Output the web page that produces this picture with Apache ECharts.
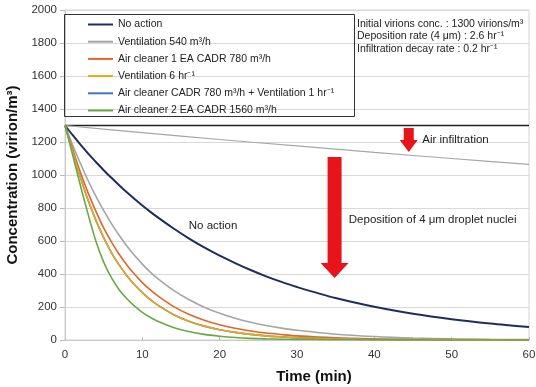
<!DOCTYPE html>
<html><head><meta charset="utf-8">
<script src="https://cdn.jsdelivr.net/npm/echarts@6/dist/echarts.min.js"></script>
<style>html,body{margin:0;padding:0;background:#fff}#c{width:536px;height:387px}</style>
</head><body><div id="c"></div>
<script>
// ---- data ----
const times = [0,1,2,3,4,5,6,7,8,9,10,11,12,14,16,18,20,22,24,26,28,30,35,40,45,50,55,60];
const noAction   = [1300,1241,1184,1130,1079,1029,983,938,895,854,815,778,743,677,616,561,511,466,424,386,352,321,254,201,159,126,100,79];
const vent540    = [1300,1180,1070,965,870,785,705,635,570,512,460,413,372,302,245,199,162,132,108,88,72,59,35,21,12,7,4,2.5];
const ac1        = [1300,1155,1015,890,780,680,595,520,455,398,348,305,267,204,156,120,92,71,55,42,33,25,13,7,3.5,2,1,0.5];
const vent6      = [1300,1140,985,845,725,620,530,455,390,335,287,246,211,155,114,84,62,46,34,25,19,14,7,3,1.5,1,0.5,0];
const acVent1    = [1300,1140,985,845,725,620,530,455,390,335,287,246,211,155,114,84,62,46,34,25,19,14,7,3,1.5,1,0.5,0];
const ac2        = [1300,1120,935,760,598,472,378,305,250,205,168,138,113,76,51,34,23,15,10,7,5,4,2,1,0.5,0,0,0];
const infilTimes = [0,10,20,30,40,50,60];
const infil      = [1300,1257,1215,1176,1137,1100,1064];
const initTimes  = [0,60];
const initConc   = [1300,1300];
const xTicks = {min:0,max:60,interval:10};
const yTicks = {min:0,max:2000,interval:200};
const names = ['No action','Ventilation 540 m³/h','Air cleaner 1 EA CADR 780 m³/h','Ventilation 6 hr⁻¹','Air cleaner CADR 780 m³/h + Ventilation 1 hr⁻¹','Air cleaner 2 EA CADR 1560 m³/h'];

const pairs = (xs, ys) => xs.map((x,i)=>[x, ys[i]]);
const FONT = '"Liberation Sans", Arial, sans-serif';

const chart = echarts.init(document.getElementById('c'), null, {renderer:'canvas'});
function line(name, data, color, width, z){
  return {name, type:'line', data, symbol:'none', smooth:0.3, z:z||2,
    lineStyle:{color, width}, itemStyle:{color}, emphasis:{disabled:true}, animation:false};
}
chart.setOption({
  animation:false,
  textStyle:{fontFamily:FONT},
  grid:{left:65, right:7, top:10, bottom:47, containLabel:false, outerBoundsMode:'none',
    show:true, borderColor:'#d4d4d4', borderWidth:1},
  xAxis:{type:'value', min:xTicks.min, max:xTicks.max, interval:xTicks.interval,
    name:'Time (min)', nameLocation:'middle', nameGap:29,
    nameTextStyle:{fontFamily:FONT, fontSize:15, fontWeight:'bold', color:'#111', padding:[0,0,0,34]},
    axisLine:{lineStyle:{color:'#c8c8c8'}}, axisTick:{inside:true, length:3, lineStyle:{color:'#bbb'}},
    axisLabel:{fontFamily:FONT, fontSize:11.5, color:'#333', margin:9}, splitLine:{show:false}},
  yAxis:{type:'value', min:yTicks.min, max:yTicks.max, interval:yTicks.interval,
    name:'Concentration (virion/m³)', nameLocation:'middle', nameGap:43,
    nameTextStyle:{fontFamily:FONT, fontSize:15, fontWeight:'bold', color:'#111'},
    axisLine:{show:true, lineStyle:{color:'#c8c8c8'}}, axisTick:{show:true, length:5, lineStyle:{color:'#bbb'}},
    axisLabel:{fontFamily:FONT, fontSize:11.5, color:'#333', margin:8, formatter:v=>String(v)},
    splitLine:{lineStyle:{color:'#d9d9d9', width:1}}},
  legend:{orient:'vertical', left:88, top:19, padding:0, itemWidth:25, itemHeight:2, itemGap:6.2, icon:'rect',
    data:names, selectedMode:false,
    textStyle:{fontFamily:FONT, fontSize:10.5, color:'#222', lineHeight:11}},
  series:[
    line('init', pairs(initTimes, initConc), '#222', 1.5, 1),
    line('infiltration', pairs(infilTimes, infil), '#a6a6a6', 1.2, 1),
    line(names[0], pairs(times, noAction), '#1f2d5e', 2),
    line(names[1], pairs(times, vent540), '#a5a5a5', 1.6),
    line(names[2], pairs(times, ac1), '#e0662c', 1.6),
    line(names[4], pairs(times, acVent1), '#4472c4', 1.6),
    line(names[3], pairs(times, vent6), '#e6a81a', 1.6, 3),
    line(names[5], pairs(times, ac2), '#6aa844', 1.6, 3)
  ]
});

function P(x,y){return chart.convertToPixel({gridIndex:0},[x,y]);}
function arrow(tx, yTop, yHead, yTip, shaftW, headW){
  const a=P(tx,yTop), b=P(tx,yHead), c=P(tx,yTip);
  const x=a[0];
  return {type:'polygon', shape:{points:[
    [x-shaftW/2,a[1]],[x+shaftW/2,a[1]],[x+shaftW/2,b[1]],[x+headW/2,b[1]],
    [x,c[1]],[x-headW/2,b[1]],[x-shaftW/2,b[1]]]}, style:{fill:'#e8141b'}, z:10};
}
const t1=P(16,691), t2=P(46.2,1212), t3=P(36.7,730);
chart.setOption({graphic:[
  {type:'rect', shape:{x:64.5,y:14.5,width:290,height:102}, style:{fill:null, stroke:'#333', lineWidth:1}, z:5},
  {type:'text', left:357, top:19, style:{text:'Initial virions conc. : 1300 virions/m³', font:'10.5px '+FONT, fill:'#222'}},
  {type:'text', left:357, top:31, style:{text:'Deposition rate (4 μm) : 2.6 hr⁻¹', font:'10.5px '+FONT, fill:'#222'}},
  {type:'text', left:357, top:44, style:{text:'Infiltration decay rate : 0.2 hr⁻¹', font:'10.5px '+FONT, fill:'#222'}},
  {type:'text', x:t1[0], y:t1[1], style:{text:'No action', font:'11.5px '+FONT, fill:'#222', verticalAlign:'middle'}},
  {type:'text', x:t2[0], y:t2[1], style:{text:'Air infiltration', font:'11.5px '+FONT, fill:'#222', verticalAlign:'middle'}},
  {type:'text', x:t3[0], y:t3[1], style:{text:'Deposition of 4 μm droplet nuclei', font:'11.5px '+FONT, fill:'#222', verticalAlign:'middle'}},
  arrow(44.45, 1285, 1212, 1139, 10, 18),
  arrow(34.86, 1109, 467, 376, 14, 28)
]});
</script></body></html>
